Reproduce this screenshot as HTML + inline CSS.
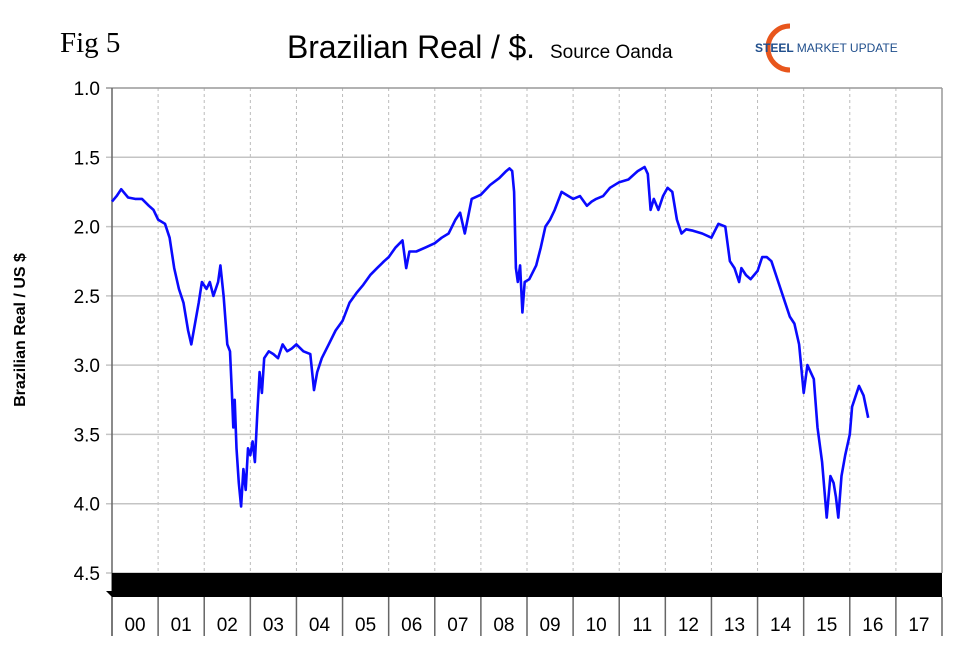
<!DOCTYPE html>
<html><head><meta charset="utf-8"><style>
body{margin:0;background:#fff;width:959px;height:656px;overflow:hidden;font-family:"Liberation Sans",sans-serif}
</style></head><body>
<svg id="chart" width="959" height="656" xmlns="http://www.w3.org/2000/svg">
<text x="60" y="52" font-family="Liberation Serif" font-size="29">Fig 5</text>
<text x="287" y="58" font-size="32" textLength="248">Brazilian Real / $.</text>
<text x="550" y="58" font-size="19">Source Oanda</text>
<g>
<path d="M790 26 A22 22 0 1 0 790 70" fill="none" stroke="#e8561c" stroke-width="5"/>
<text x="755" y="52" font-size="12" font-weight="bold" fill="#1f4e8c">STEEL <tspan font-weight="normal">MARKET UPDATE</tspan></text>
</g>
<text transform="translate(25,330) rotate(-90)" text-anchor="middle" font-size="16" font-weight="bold">Brazilian Real / US $</text>
<g id="grid"></g>
<g id="axes"></g>
<path id="line" fill="none" stroke="#0a0aff" stroke-width="2.6" stroke-linejoin="round"/>
</svg>
<script>
const years=["00","01","02","03","04","05","06","07","08","09","10","11","12","13","14","15","16","17"];
const yTicks=[1.0,1.5,2.0,2.5,3.0,3.5,4.0,4.5];
const dates=[2000.0,2000.1,2000.2,2000.35,2000.5,2000.65,2000.8,2000.9,2001.0,2001.15,2001.25,2001.35,2001.45,2001.55,2001.65,2001.72,2001.8,2001.88,2001.95,2002.05,2002.12,2002.2,2002.3,2002.35,2002.42,2002.5,2002.56,2002.6,2002.63,2002.66,2002.7,2002.75,2002.8,2002.85,2002.9,2002.95,2003.0,2003.05,2003.1,2003.15,2003.2,2003.25,2003.3,2003.4,2003.5,2003.6,2003.7,2003.8,2003.9,2004.0,2004.15,2004.3,2004.38,2004.45,2004.55,2004.7,2004.85,2005.0,2005.15,2005.3,2005.45,2005.6,2005.75,2005.9,2006.0,2006.15,2006.3,2006.38,2006.45,2006.6,2006.8,2007.0,2007.15,2007.3,2007.45,2007.55,2007.65,2007.8,2008.0,2008.2,2008.4,2008.55,2008.62,2008.68,2008.72,2008.76,2008.8,2008.85,2008.9,2008.95,2009.05,2009.2,2009.3,2009.4,2009.5,2009.6,2009.75,2009.9,2010.0,2010.15,2010.3,2010.4,2010.5,2010.65,2010.8,2011.0,2011.2,2011.4,2011.55,2011.62,2011.68,2011.75,2011.85,2011.95,2012.05,2012.15,2012.25,2012.35,2012.45,2012.6,2012.8,2013.0,2013.15,2013.3,2013.4,2013.5,2013.6,2013.65,2013.75,2013.85,2014.0,2014.1,2014.2,2014.3,2014.45,2014.6,2014.7,2014.8,2014.9,2015.0,2015.08,2015.15,2015.22,2015.3,2015.4,2015.5,2015.58,2015.65,2015.7,2015.75,2015.82,2015.9,2016.0,2016.05,2016.1,2016.2,2016.3,2016.4,2016.5,2016.6,2016.7,2016.78,2016.83,2016.86];
const rates=[1.82,1.78,1.73,1.79,1.80,1.80,1.85,1.88,1.95,1.98,2.08,2.30,2.45,2.55,2.75,2.85,2.70,2.55,2.40,2.45,2.40,2.50,2.40,2.28,2.50,2.85,2.90,3.20,3.45,3.25,3.60,3.85,4.02,3.75,3.90,3.60,3.65,3.55,3.70,3.35,3.05,3.20,2.95,2.90,2.92,2.95,2.85,2.90,2.88,2.85,2.90,2.92,3.18,3.05,2.95,2.85,2.75,2.68,2.55,2.48,2.42,2.35,2.30,2.25,2.22,2.15,2.10,2.30,2.18,2.18,2.15,2.12,2.08,2.05,1.95,1.90,2.05,1.80,1.77,1.70,1.65,1.60,1.58,1.60,1.75,2.30,2.40,2.28,2.62,2.40,2.38,2.28,2.15,2.00,1.95,1.88,1.75,1.78,1.80,1.78,1.85,1.82,1.80,1.78,1.72,1.68,1.66,1.60,1.57,1.62,1.88,1.80,1.88,1.78,1.72,1.75,1.95,2.05,2.02,2.03,2.05,2.08,1.98,2.00,2.25,2.30,2.40,2.30,2.35,2.38,2.32,2.22,2.22,2.25,2.40,2.55,2.65,2.70,2.85,3.20,3.00,3.05,3.10,3.45,3.70,4.10,3.80,3.85,3.95,4.10,3.80,3.65,3.50,3.30,3.25,3.15,3.22,3.38];
const X0=112,X1=942,Y0=88,Y1=573;
const xs=d=>X0+(d-2000)*(X1-X0)/18;
const ys=v=>Y0+(v-1)*(Y1-Y0)/3.5;
const NS="http://www.w3.org/2000/svg";
function mk(parent,tag,attrs){const e=document.createElementNS(NS,tag);for(const k in attrs)e.setAttribute(k,attrs[k]);parent.appendChild(e);return e;}
const grid=document.getElementById('grid'),axes=document.getElementById('axes');
for(let i=1;i<18;i++){const l=mk(grid,'line',{x1:xs(2000+i),x2:xs(2000+i),y1:Y0,y2:Y1,stroke:'#bbb','stroke-dasharray':'3,3'});

}
yTicks.forEach(v=>{const l=mk(grid,'line',{x1:X0-6,x2:X1,y1:ys(v),y2:ys(v),stroke:v==1?'#999':'#c4c4c4','stroke-width':1.5});


const t=mk(axes,'text',{x:X0-12,y:ys(v)+7,'text-anchor':'end','font-size':19});t.textContent=v.toFixed(1);

});
mk(axes,'line',{x1:X0,x2:X0,y1:Y0,y2:636,stroke:'#666','stroke-width':1.5});
mk(axes,'line',{x1:X1,x2:X1,y1:Y0,y2:Y1,stroke:'#999','stroke-width':1.5});
const bar=mk(axes,'rect',{x:X0,y:573,width:X1-X0,height:24,fill:'#000'});


mk(axes,'path',{d:'M106 591 L112 591 L112 597 Z',fill:'#000'});
years.forEach((y,i)=>{mk(axes,'line',{x1:xs(2000+i),x2:xs(2000+i),y1:597,y2:636,stroke:'#666','stroke-width':1.5});
const t=mk(axes,'text',{x:xs(2000.5+i),y:631,'text-anchor':'middle','font-size':19});t.textContent=y;

});
mk(axes,'line',{x1:X1,x2:X1,y1:597,y2:636,stroke:'#666','stroke-width':1.5});
document.getElementById('line').setAttribute('d',dates.map((d,i)=>(i?'L':'M')+xs(d).toFixed(1)+' '+ys(rates[i]).toFixed(1)).join(' '));
</script>
</body></html>
